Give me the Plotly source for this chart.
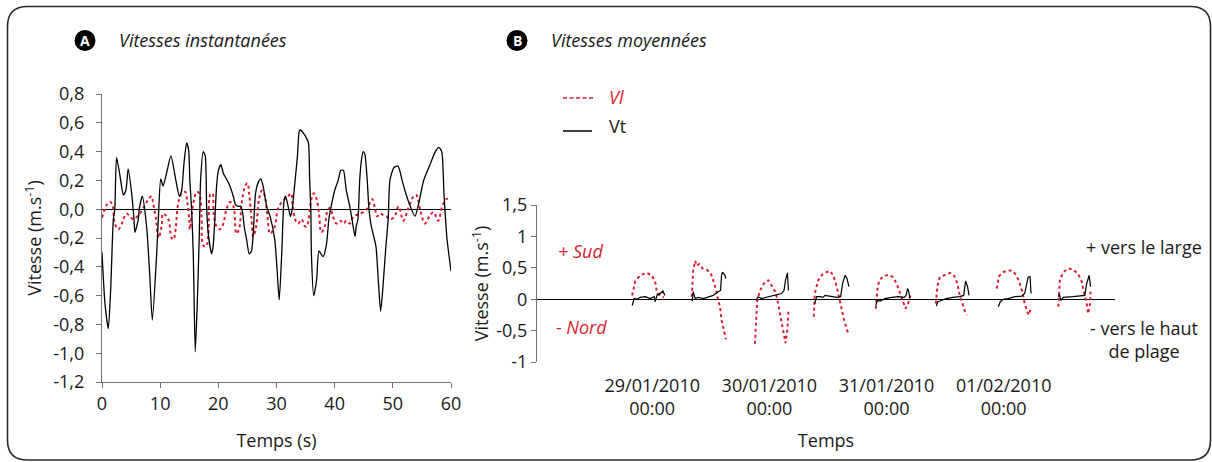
import pandas as pd
import plotly.graph_objects as go

W, H = 1212, 462
RED = "#d81e32"
GREY = "#707070"
INK = "#1a1a1a"
FONT = "Open Sans"

# ---- Panel A : vitesses instantanées (t en s)
a_vt_t = [0.0, 0.5, 1.08, 1.5, 1.95, 2.2, 2.5, 3.1, 3.67, 4.1, 4.5, 5.1, 5.5, 5.67, 6.24, 6.4,
          6.93, 7.67, 8.2, 8.65, 9.4, 9.68, 10.1, 10.5, 11.1, 11.85, 12.7, 13.3, 13.7, 14.1,
          14.55, 14.9, 15.1, 15.4, 15.69, 16.03, 16.38, 16.72, 16.95, 17.4, 17.75, 18.0,
          18.27, 18.84, 19.1, 19.4, 19.7, 20.0, 20.45, 20.85, 21.4, 22.0, 22.57, 22.97, 23.4,
          23.8, 24.2, 24.45, 24.86, 25.3, 25.7, 26.0, 26.4, 26.9, 27.3, 27.7, 28.3, 28.9, 29.7,
          30.1, 30.47, 30.9, 31.3, 31.56, 32.0, 32.4, 32.7, 33.2, 33.6, 33.9, 34.1, 34.6, 35.2,
          35.5, 35.7, 35.9, 36.0, 36.4, 36.9, 37.3, 38.0, 38.6, 39.0, 39.3, 40.0, 40.6, 41.06,
          41.5, 42.0, 42.6, 43.1, 43.5, 43.7, 44.0, 44.3, 44.6, 44.9, 45.2, 45.6, 45.9, 46.3,
          46.6, 47.1, 47.5, 47.9, 48.3, 48.8, 49.2, 49.5, 50.2, 50.9, 51.6, 52.3, 53.0, 53.8,
          54.5, 55.3, 56.3, 57.3, 57.9, 58.4, 58.8, 59.3, 60.0]
a_vt_v = [-0.30, -0.65, -0.83, -0.55, -0.07, 0.0, 0.36, 0.23, 0.10, 0.13, 0.28, 0.11, -0.07,
          -0.16, -0.07, 0.0, 0.09, -0.12, -0.45, -0.77, -0.31, -0.07, 0.21, 0.16, 0.25, 0.37,
          0.20, 0.09, 0.13, 0.32, 0.46, 0.41, 0.20, 0.0, -0.31, -0.99, -0.65, -0.19, 0.20,
          0.40, 0.37, 0.0, -0.17, -0.31, -0.26, -0.07, 0.16, 0.27, 0.31, 0.25, 0.21, 0.16,
          0.09, 0.03, 0.02, 0.02, -0.03, -0.12, -0.21, -0.31, -0.29, -0.17, 0.11, 0.19, 0.21,
          0.16, 0.02, -0.05, -0.21, -0.42, -0.63, -0.31, 0.06, 0.09, 0.02, -0.05, 0.0, 0.20,
          0.37, 0.54, 0.55, 0.53, 0.49, 0.46, 0.20, 0.0, -0.31, -0.60, -0.49, -0.29, -0.33,
          -0.24, -0.07, 0.0, 0.13, 0.20, 0.27, 0.27, 0.13, 0.02, -0.10, -0.19, -0.12, -0.07,
          0.20, 0.34, 0.40, 0.38, 0.20, 0.0, -0.12, -0.17, -0.26, -0.49, -0.71, -0.54, -0.26,
          -0.07, 0.20, 0.29, 0.30, 0.20, 0.10, 0.02, -0.05, 0.05, 0.20, 0.30, 0.40, 0.43, 0.40,
          0.10, -0.20, -0.43]

a_vl_t = [0.0, 0.8, 1.4, 1.8, 2.2, 2.8, 3.4, 3.7, 4.2, 4.8, 5.4, 6.5, 7.4, 8.0, 8.5, 8.8, 9.3,
          9.7, 10.25, 10.5, 11.4, 11.97, 12.3, 12.7, 13.1, 13.7, 14.3, 14.7, 15.0, 15.1, 15.7,
          16.3, 16.7, 17.1, 17.4, 17.9, 18.3, 18.6, 19.0, 19.2, 19.7, 20.3, 20.85, 21.4, 22.0,
          22.6, 23.1, 23.6, 24.0, 24.6, 25.0, 25.3, 25.7, 26.0, 26.5, 27.0, 27.5, 28.0, 28.4,
          28.9, 29.7, 30.3, 31.4, 32.0, 32.5, 32.8, 33.2, 33.7, 34.3, 34.9, 35.2, 36.0, 36.4,
          36.9, 37.3, 37.7, 38.3, 38.7, 39.2, 39.7, 40.3, 41.0, 41.5, 42.0, 42.6, 43.2, 43.8,
          44.3, 45.0, 45.5, 46.0, 46.5, 46.9, 47.3, 47.8, 48.3, 48.9, 49.5, 50.3, 51.0, 51.8,
          52.6, 53.4, 54.0, 54.8, 55.5, 56.3, 57.0, 57.8, 58.5, 59.2, 60.0]
a_vl_v = [-0.06, 0.03, 0.05, 0.03, -0.10, -0.14, -0.10, -0.07, -0.03, -0.05, -0.07, -0.03,
          0.03, 0.07, 0.09, 0.04, -0.07, -0.20, -0.12, -0.03, -0.07, -0.20, -0.21, -0.12,
          0.04, 0.11, 0.12, 0.04, -0.07, -0.14, 0.04, 0.12, 0.11, -0.03, -0.25, -0.26, -0.17,
          0.10, 0.11, -0.03, -0.12, -0.14, -0.10, 0.0, 0.05, 0.02, -0.17, -0.13, 0.04, 0.16,
          0.18, 0.11, -0.07, -0.19, -0.12, 0.07, 0.13, 0.09, -0.03, -0.17, -0.12, 0.01, 0.07,
          0.09, 0.11, 0.02, -0.07, -0.10, -0.07, -0.12, -0.12, 0.07, 0.11, 0.07, -0.03, -0.16,
          -0.12, -0.02, 0.01, -0.05, -0.10, -0.08, -0.10, -0.08, -0.10, -0.05, -0.04, -0.03,
          -0.02, 0.0, 0.04, 0.07, 0.01, -0.05, -0.03, -0.04, -0.05, -0.07, -0.05, 0.02, -0.08,
          0.0, 0.08, 0.10, -0.02, -0.10, -0.05, -0.02, -0.08, 0.02, 0.07, 0.08]

a_xticks = [0, 10, 20, 30, 40, 50, 60]
a_yticks = [0.8, 0.6, 0.4, 0.2, 0.0, -0.2, -0.4, -0.6, -0.8, -1.0, -1.2]
a_ytext = ["0,8", "0,6", "0,4", "0,2", "0,0", "-0,2", "-0,4", "-0,6", "-0,8", "-1,0", "-1,2"]

# ---- Panel B : vitesses moyennées (heures depuis le 28/01/2010 00:00, None = coupure)
b_vl_h = [19.9, 20.5, 21.5, 22.9, 23.9, 24.6, 24.9, 25.6, 26.4, None,
          32.1, 32.4, 32.8, 33.1, 33.6, 34.3, 35.2, 36.0, 36.5, 37.1, 37.5, 37.9, 38.2, 38.6, 39.1, None,
          45.05, 45.26, 45.5, 46.1, 47.1, 47.8, 48.5, 49.2, 49.6, 50.0, 50.5, 51.0, 51.3, 51.7, 51.9, None,
          57.1, 57.3, 58.0, 59.0, 60.4, 61.1, 61.8, 62.3, 62.8, 63.3, 63.9, 64.2, None,
          69.8, 70.1, 70.5, 71.3, 72.4, 73.4, 74.2, 74.9, 75.4, 75.9, 76.4, 76.9, None,
          82.1, 82.4, 82.9, 84.0, 85.0, 85.8, 86.5, 87.0, 87.6, 88.1, 88.5, None,
          94.6, 95.0, 95.9, 96.9, 97.8, 98.6, 99.3, 99.9, 100.3, 100.8, 101.2, 101.6, None,
          107.2, 107.5, 108.2, 109.2, 110.2, 111.2, 111.9, 112.5, 113.0, 113.3, 113.7, 113.8]
b_vl_v = [0.06, 0.28, 0.38, 0.42, 0.38, 0.28, 0.14, 0.06, 0.03, None,
          0.04, 0.46, 0.61, 0.53, 0.56, 0.49, 0.47, 0.41, 0.30, 0.14, -0.02, -0.12, -0.33, -0.49, -0.64, None,
          -0.71, -0.39, -0.02, 0.14, 0.28, 0.30, 0.22, 0.12, 0.01, -0.15, -0.33, -0.55, -0.70, -0.47, -0.20, None,
          -0.28, 0.09, 0.30, 0.41, 0.45, 0.38, 0.20, 0.01, -0.18, -0.33, -0.49, -0.55, None,
          -0.15, 0.14, 0.30, 0.36, 0.39, 0.35, 0.22, 0.06, -0.07, -0.15, -0.07, 0.06, None,
          -0.07, 0.20, 0.35, 0.39, 0.42, 0.38, 0.25, 0.06, -0.10, -0.20, -0.25, None,
          0.17, 0.36, 0.43, 0.46, 0.45, 0.38, 0.25, 0.09, -0.07, -0.20, -0.25, -0.12, None,
          -0.12, 0.30, 0.43, 0.49, 0.47, 0.41, 0.30, 0.12, -0.07, -0.23, -0.07, 0.12]

b_vt_h = [19.9, 20.3, 20.9, 21.5, 22.6, 23.6, 24.4, 24.6, 25.1, 25.3, 26.2, 26.6, None,
          32.2, 32.4, 32.8, 33.4, 34.5, 35.5, 36.5, 37.5, 38.0, 38.2, 38.4, 38.9, 39.1, None,
          45.26, 45.7, 46.4, 47.4, 48.5, 49.5, 50.5, 51.0, 51.3, 51.7, 51.9, None,
          57.3, 57.7, 58.4, 59.0, 59.4, 60.4, 61.8, 62.6, 63.0, 63.5, 63.9, 64.3, None,
          69.8, 70.1, 70.7, 71.7, 73.1, 74.4, 75.6, 76.0, 76.3, 76.5, 76.8, None,
          82.2, 82.5, 83.2, 84.2, 85.6, 87.0, 87.8, 88.1, 88.2, 88.6, 88.9, None,
          94.9, 95.3, 95.9, 96.9, 98.3, 99.7, 100.3, 100.7, 101.0, 101.4, 101.6, None,
          107.2, 107.4, 107.7, 108.2, 110.2, 111.6, 112.6, 113.0, 113.3, 113.5, 113.8]
b_vt_v = [-0.10, 0.01, 0.0, 0.03, 0.04, 0.01, 0.04, -0.04, 0.09, 0.07, 0.13, 0.06, None,
          -0.03, 0.12, 0.01, 0.03, 0.01, 0.04, 0.06, 0.12, 0.14, 0.38, 0.43, 0.38, 0.33, None,
          -0.02, 0.04, 0.01, 0.03, 0.04, 0.06, 0.09, 0.14, 0.30, 0.42, 0.14, None,
          -0.07, 0.04, 0.04, 0.03, 0.06, 0.05, 0.03, 0.04, 0.25, 0.38, 0.33, 0.20, None,
          -0.10, -0.02, -0.03, 0.01, 0.03, 0.04, 0.03, 0.06, 0.17, 0.14, 0.01, None,
          -0.11, -0.04, -0.02, 0.01, 0.03, 0.04, 0.06, 0.25, 0.29, 0.20, 0.06, None,
          -0.12, -0.04, 0.0, 0.01, 0.04, 0.05, 0.09, 0.25, 0.35, 0.36, 0.09, None,
          0.04, 0.08, -0.02, 0.03, 0.04, 0.05, 0.06, 0.25, 0.36, 0.38, 0.20]

b_start = pd.Timestamp("2010-01-28 00:00")
b_xrange_h = [0.4, 118.8]
b_tick_h = [24, 48, 72, 96]
b_tick_text = ["29/01/2010<br>00:00", "30/01/2010<br>00:00", "31/01/2010<br>00:00", "01/02/2010<br>00:00"]
b_yticks = [1.5, 1, 0.5, 0, -0.5, -1]
b_ytext = ["1,5", "1", "0,5", "0", "-0,5", "-1"]


def to_dates(hours):
    return [b_start + pd.Timedelta(hours=h) if h is not None else None for h in hours]


def px(x, y):
    # pixel -> paper
    return x / W, 1 - y / H


def note(text, x, y, size=18, color=INK, xanchor="center", angle=0):
    fx, fy = px(x, y)
    fig.add_annotation(x=fx, y=fy, xref="paper", yref="paper", text=text, showarrow=False,
                       xanchor=xanchor, yanchor="middle", textangle=angle,
                       font=dict(family=FONT, size=size, color=color))


fig = go.Figure()

fig.add_trace(go.Scatter(x=a_vl_t, y=a_vl_v, mode="lines", line=dict(color=RED, width=2, dash="dot", shape="spline"),
                         xaxis="x", yaxis="y", showlegend=False))
fig.add_trace(go.Scatter(x=a_vt_t, y=a_vt_v, mode="lines", line=dict(color="black", width=1.3, shape="spline", smoothing=0.6),
                         xaxis="x", yaxis="y", showlegend=False))
fig.add_trace(go.Scatter(x=to_dates(b_vl_h), y=b_vl_v, mode="lines", line=dict(color=RED, width=2, dash="dot"),
                         connectgaps=False, xaxis="x2", yaxis="y2", showlegend=False))
fig.add_trace(go.Scatter(x=to_dates(b_vt_h), y=b_vt_v, mode="lines", line=dict(color="black", width=1.2),
                         connectgaps=False, xaxis="x2", yaxis="y2", showlegend=False))

axis_common = dict(showgrid=False, showline=True, linecolor=GREY, linewidth=1.3, ticks="outside",
                   ticklen=5, tickcolor=GREY, automargin=False,
                   tickfont=dict(family=FONT, size=18, color=INK))

fig.update_layout(
    width=W, height=H, margin=dict(l=0, r=0, t=0, b=0, pad=0, autoexpand=False),
    paper_bgcolor="white", plot_bgcolor="white",
    font=dict(family=FONT, size=18, color=INK),
    xaxis=dict(axis_common, domain=[102 / W, 451 / W], range=[0, 60], tickvals=a_xticks,
               zeroline=False, anchor="y",
               title=dict(text="Temps (s)", standoff=20, font=dict(size=18))),
    yaxis=dict(axis_common, domain=[1 - 382 / H, 1 - 94 / H], range=[-1.2, 0.8], tickvals=a_yticks,
               ticktext=a_ytext, zeroline=True, zerolinecolor="black", zerolinewidth=1.2, anchor="x",
               ticklabelstandoff=8,
               title=dict(text="Vitesse (m.s<sup>-1</sup>)", standoff=6, font=dict(size=18))),
    xaxis2=dict(axis_common, domain=[537 / W, 1115 / W], type="date",
                range=to_dates(b_xrange_h), tickvals=to_dates(b_tick_h), ticktext=b_tick_text,
                showline=False, ticks="", zeroline=False, anchor="y2", ticklabelstandoff=11,
                title=dict(text="Temps", standoff=14, font=dict(size=18))),
    yaxis2=dict(axis_common, domain=[1 - 362 / H, 1 - 205 / H], range=[-1, 1.5], tickvals=b_yticks,
                ticktext=b_ytext, zeroline=True, zerolinecolor="black", zerolinewidth=1.2, anchor="x2",
                ticklabelstandoff=0,
                title=dict(text="Vitesse (m.s<sup>-1</sup>)", standoff=2, font=dict(size=18))),
)

# cadre arrondi
x0, y0, x1, y1, r = 7.5, 6.5, 1210.5, 460, 20
path = "M {} {} L {} {} ".format(*px(x0 + r, y0), *px(x1 - r, y0))
path += "Q {} {} {} {} ".format(*px(x1, y0), *px(x1, y0 + r))
path += "L {} {} Q {} {} {} {} ".format(*px(x1, y1 - r), *px(x1, y1), *px(x1 - r, y1))
path += "L {} {} Q {} {} {} {} ".format(*px(x0 + r, y1), *px(x0, y1), *px(x0, y1 - r))
path += "L {} {} Q {} {} {} {} Z".format(*px(x0, y0 + r), *px(x0, y0), *px(x0 + r, y0))
fig.add_shape(type="path", path=path, xref="paper", yref="paper", line=dict(color="#2a2a2a", width=1.6))

# pastilles A / B et titres
for letter, cx, title, tx in [("A", 85, "Vitesses instantanées", 117), ("B", 517, "Vitesses moyennées", 549)]:
    fig.add_shape(type="circle", xref="paper", yref="paper",
                  x0=(cx - 10.5) / W, x1=(cx + 10.5) / W, y0=1 - 51 / H, y1=1 - 30 / H,
                  fillcolor="black", line=dict(color="black", width=0))
    note("<b>%s</b>" % letter, cx, 40.5, size=14, color="white")
    note("<i>%s</i>" % title, tx, 40, xanchor="left")

# légende manuelle
fig.add_shape(type="line", xref="paper", yref="paper", x0=563 / W, x1=595 / W, y0=1 - 98 / H, y1=1 - 98 / H,
              line=dict(color=RED, width=1.5, dash="4px,2.5px"))
note("<i>Vl</i>", 607, 97, color=RED, xanchor="left")
fig.add_shape(type="line", xref="paper", yref="paper", x0=563 / W, x1=592 / W, y0=1 - 131 / H, y1=1 - 131 / H,
              line=dict(color="black", width=1.5))
note("Vt", 607, 126, xanchor="left")

# annotations de sens
note("<i>+ Sud</i>", 556, 251, color=RED, xanchor="left")
note("<i>- Nord</i>", 554, 327, color=RED, xanchor="left")
note("+ vers le large", 1144, 247)
note("- vers le haut<br>de plage", 1144, 339)

fig.write_html("out.html", config={"displayModeBar": False},
               post_script="document.body.style.margin='0';document.body.style.overflow='hidden';")
